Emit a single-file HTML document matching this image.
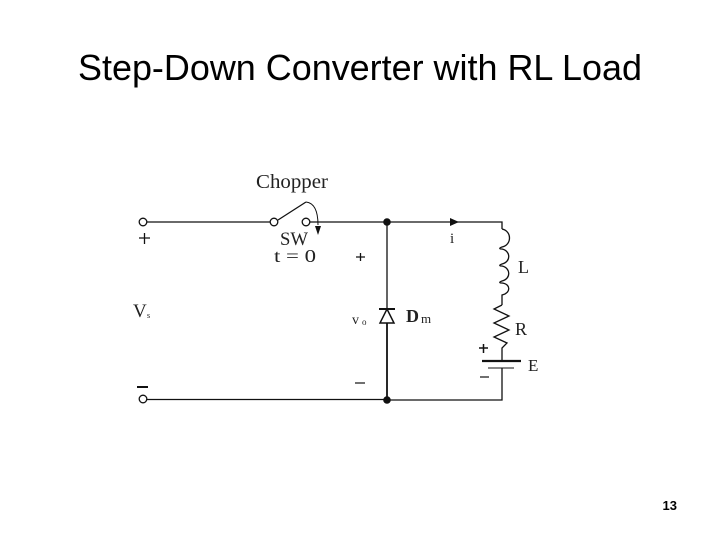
<!DOCTYPE html>
<html>
<head>
<meta charset="utf-8">
<style>
html,body{margin:0;padding:0;background:#fff;width:720px;height:540px;overflow:hidden}
svg{display:block}
.t{font-family:"Liberation Serif",serif;fill:#222}
</style>
</head>
<body>
<svg width="720" height="540" viewBox="0 0 720 540" xmlns="http://www.w3.org/2000/svg">
<text x="360" y="80" text-anchor="middle" font-family="Liberation Sans, sans-serif" font-size="36" fill="#000" textLength="564" lengthAdjust="spacingAndGlyphs">Step-Down Converter with RL Load</text>
<text x="677" y="510" text-anchor="end" font-family="Liberation Sans, sans-serif" font-size="13" font-weight="bold" fill="#000">13</text>

<g fill="none" stroke="#111" stroke-width="1.3">
<circle cx="143" cy="222" r="3.800"/>
<circle cx="274" cy="222" r="3.800"/>
<circle cx="306" cy="222" r="3.800"/>
<circle cx="143" cy="399" r="3.800"/>
<path d="M147 222H270M310 222H502V229"/>
<path d="M278 220L306 202"/>
<path d="M306 202C315 203 318 212 318 225" stroke-width="1"/>
<path d="M502 229C512 231 512 245 502 247C499 248 499 249 502 249C511 251 511 262 502 264C499 265 499 266 502 266C511 268 511 279 502 281C499 282 499 283 502 283C511 284 511 293 502 295V305"/>
<path d="M502 305L494 309L509 316L494 323L509 330L494 337L507 343L502 348V361"/>
<path d="M502 368V400H387M147 399.500H387"/>
<path d="M387 222V309"/>
<path d="M387 323V400" stroke-width="1.800"/>
<path d="M380 323H394L387 309Z" stroke-width="1.500"/>
<path d="M379 309H395" stroke-width="2"/>
<path d="M482 361H521" stroke-width="2.200"/>
<path d="M488 368H514" stroke-width="1.100"/>
<path d="M137 387H148" stroke-width="2"/>
<path d="M139 238H150M144.500 233V244"/>
<path d="M356 257H365M360.500 253V261"/>
<path d="M355 383H365" stroke-width="1.200"/>
<path d="M479 348H488M483.500 344V353" stroke-width="1.500"/>
<path d="M480 377H489" stroke-width="1.200"/>
</g>
<circle cx="387" cy="222" r="3.800" fill="#111"/>
<circle cx="387" cy="400" r="3.800" fill="#111"/>
<path d="M450 218L459 222L450 226Z" fill="#111"/>
<path d="M315 226L321 226L318 235Z" fill="#111"/>

<text class="t" x="256" y="188" font-size="20" textLength="72" lengthAdjust="spacingAndGlyphs">Chopper</text>
<text class="t" x="280" y="245" font-size="19" textLength="28" lengthAdjust="spacingAndGlyphs">SW</text>
<text class="t" x="274" y="262" font-size="18" textLength="42" lengthAdjust="spacingAndGlyphs">t = 0</text>
<text class="t" x="450" y="243" font-size="15">i</text>
<text class="t" x="518" y="273" font-size="18">L</text>
<text class="t" x="515" y="335" font-size="18">R</text>
<text class="t" x="528" y="371" font-size="17">E</text>
<text class="t" x="133" y="317" font-size="19">V</text>
<text class="t" x="147" y="318" font-size="8">s</text>
<text class="t" x="352" y="324" font-size="14">v</text>
<text class="t" x="362" y="325" font-size="9">o</text>
<text class="t" x="406" y="322" font-size="18" font-weight="bold">D</text>
<text class="t" x="421" y="323" font-size="13">m</text>
</svg>
</body>
</html>
